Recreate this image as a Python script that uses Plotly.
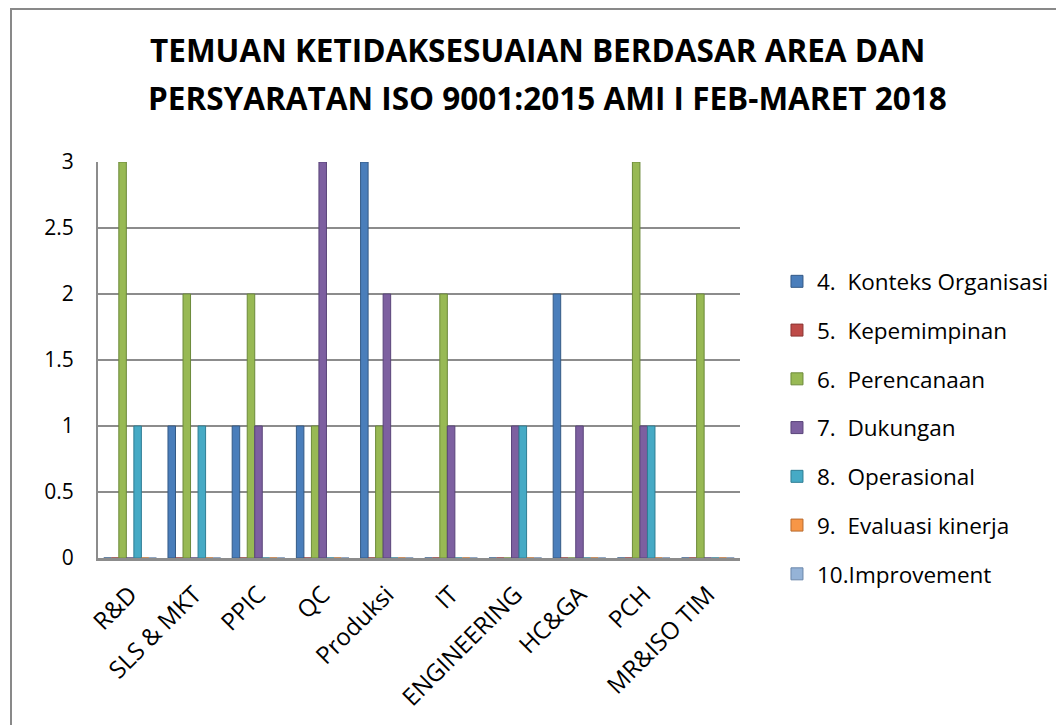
import plotly.graph_objects as go

categories = ["R&D", "SLS & MKT", "PPIC", "QC", "Produksi", "IT", "ENGINEERING", "HC&GA", "PCH", "MR&ISO TIM"]
series_names = ["4.\u00a0\u00a0Konteks Organisasi", "5.\u00a0\u00a0Kepemimpinan", "6.\u00a0\u00a0Perencanaan",
                "7.\u00a0\u00a0Dukungan", "8.\u00a0\u00a0Operasional", "9.\u00a0\u00a0Evaluasi kinerja", "10.Improvement"]
konteks = [0, 1, 1, 1, 3, 0, 0, 2, 0, 0]
kepemimpinan = [0, 0, 0, 0, 0, 0, 0, 0, 0, 0]
perencanaan = [3, 2, 2, 1, 1, 2, 0, 0, 3, 2]
dukungan = [0, 0, 1, 3, 2, 1, 1, 1, 1, 0]
operasional = [1, 1, 0, 0, 0, 0, 1, 0, 1, 0]
evaluasi = [0, 0, 0, 0, 0, 0, 0, 0, 0, 0]
improvement = [0, 0, 0, 0, 0, 0, 0, 0, 0, 0]
series_values = [konteks, kepemimpinan, perencanaan, dukungan, operasional, evaluasi, improvement]
y_ticks = [0, 0.5, 1, 1.5, 2, 2.5, 3]
y_ticktext = ["0", "0.5", "1", "1.5", "2", "2.5", "3"]
title_lines = ["TEMUAN KETIDAKSESUAIAN BERDASAR AREA DAN", "PERSYARATAN ISO 9001:2015 AMI I FEB-MARET 2018"]
colors = ["#4A7EBB", "#BE4B48", "#98B954", "#7D60A0", "#46AAC5", "#F79646", "#95B3D7"]
edge = ["#345A86", "#8A3533", "#6C8A3A", "#59447A", "#2F7E94", "#B86A2E", "#6A86AA"]

L, T, R, B = 90, 154, 332, 175
PW, PH = 1064 - L - R, 725 - T - B

fig = go.Figure()
for i, (name, vals) in enumerate(zip(series_names, series_values)):
    fig.add_trace(go.Bar(
        x=categories, y=vals, name=name, legendgroup=f"g{i}",
        marker=dict(color=colors[i], line=dict(color=edge[i], width=1)),
    ))

font_family = "Open Sans, Lato, sans-serif"
annotations = []
for line, fy, fx in zip(title_lines, [42, 89], [529, 539]):
    annotations.append(dict(
        text=f"<b>{line}</b>", xref="paper", yref="paper",
        x=(fx - L) / PW, y=(T + PH - fy) / PH, xanchor="center", yanchor="middle",
        showarrow=False, font=dict(family=font_family, size=31.5, color="#000"),
    ))

fig.update_layout(
    width=1064, height=725,
    paper_bgcolor="white", plot_bgcolor="white",
    barmode="group", bargap=0.18, bargroupgap=0.0,
    margin=dict(l=L, r=R, t=T, b=B, autoexpand=False),
    font=dict(family=font_family, size=21, color="#000"),
    annotations=annotations,
    legend=dict(
        x=1.0576, xanchor="left", y=0.752, yanchor="top",
        font=dict(size=22.5), tracegroupgap=16.5, itemwidth=30,
        bgcolor="rgba(0,0,0,0)",
    ),
    yaxis=dict(
        range=[0, 3], tickvals=y_ticks, ticktext=y_ticktext, automargin=False,
        showgrid=True, gridcolor="#8C8C8C", gridwidth=2,
        showline=True, linecolor="#8C8C8C", linewidth=2,
        ticks="", ticklabelstandoff=18, zeroline=False,
        tickfont=dict(size=21),
    ),
    xaxis=dict(
        showline=True, linecolor="#8C8C8C", linewidth=3, automargin=False,
        tickangle=-45, ticks="", tickfont=dict(size=24), ticklabelstandoff=10,
    ),
    shapes=[dict(
        type="rect", xref="paper", yref="paper",
        x0=(3 - L) / PW, x1=(1075 - L) / PW,
        y0=(T + PH - 740) / PH, y1=(T + PH - 1) / PH,
        line=dict(color="#898989", width=2), fillcolor="rgba(0,0,0,0)", layer="below",
    )],
)

fig.write_html("out.html")
